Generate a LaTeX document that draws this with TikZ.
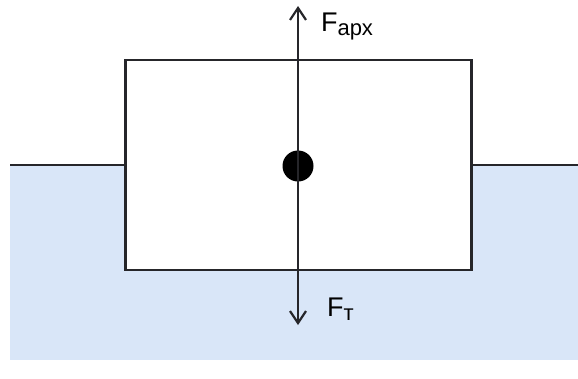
\documentclass[tikz,border=0pt]{standalone}
\usepackage{fontspec}
\setmainfont{Liberation Sans}
\usetikzlibrary{arrows.meta}
\definecolor{water}{RGB}{217,230,248}
\definecolor{edge}{RGB}{38,38,42}

\begin{document}
\begin{tikzpicture}[x=1pt,y=-1pt]
    \useasboundingbox (0,0) rectangle (578,378);
    \tikzset{force/.style={edge, line width=2.2pt, -{Straight Barb[length=12pt,width=16pt,line width=2.2pt]}},
             forcelabel/.style={anchor=base west, inner sep=0pt, font=\fontsize{27}{27}\selectfont}}
    % water
    \fill[water] (10,165) rectangle (578,360);
    \node[draw=edge, line width=2.2pt, fill=white, minimum width=346pt, minimum height=210pt,
          inner sep=0pt] (body) at (298.5,165) {};
    \coordinate (shoreL) at (10,165);
    \coordinate (shoreR) at (578,165);
    \draw[edge, line width=2.2pt] (shoreL) -- (body.west |- shoreL);
    \draw[edge, line width=2.2pt] (body.east |- shoreR) -- (shoreR);
    \node[circle, fill=black, minimum size=31pt, inner sep=0pt] (cm) at (298,166) {};
    \coordinate (top) at (298,6);
    \coordinate (bot) at (298,325);
    \draw[force] (cm.center) -- (top);
    \draw[force] (cm.center) -- (bot);
    \node[forcelabel] (farch) at (321,31) {F\raisebox{-4pt}{\fontsize{22}{22}\selectfont арх}};
    \node[forcelabel] (ft) at (327,316) {F\raisebox{-4pt}{\fontsize{22}{22}\selectfont т}};
  \end{tikzpicture}
\end{document}
